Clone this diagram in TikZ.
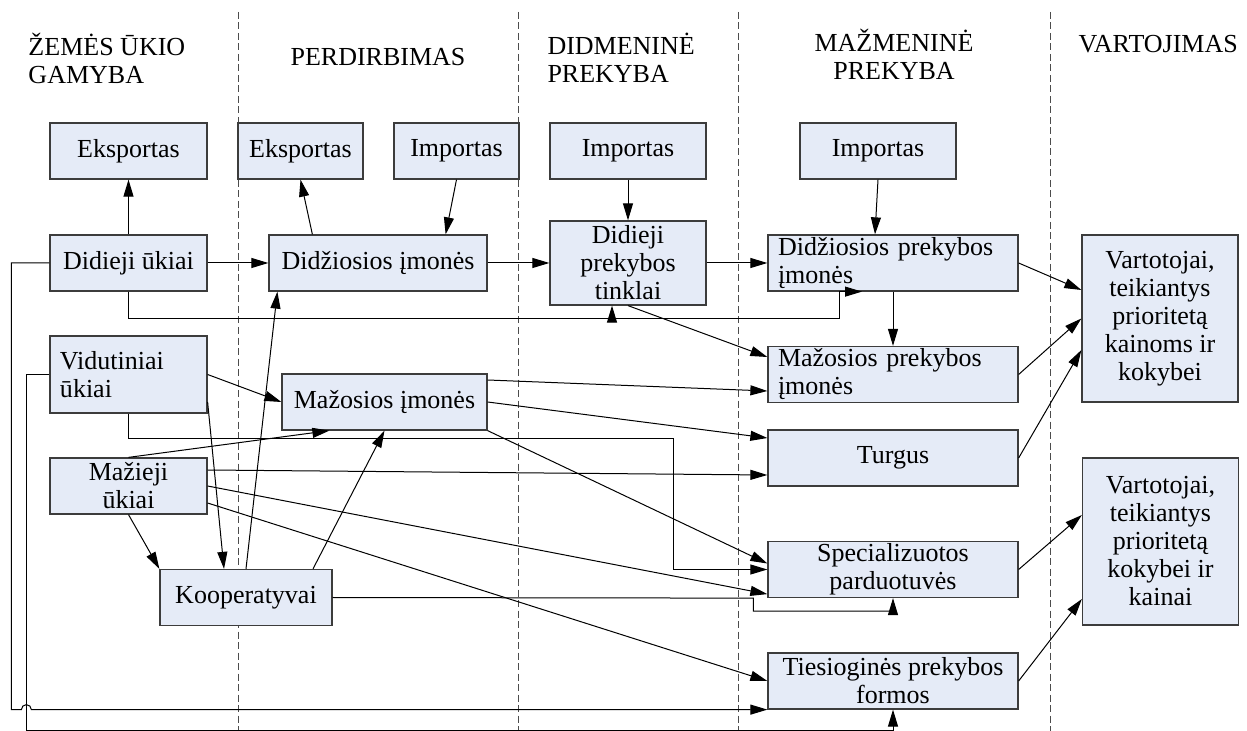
\documentclass[tikz,border=0pt]{standalone}
\usepackage{fontspec}
\setmainfont{Liberation Serif}
\usetikzlibrary{arrows.meta,calc}
\definecolor{BoxClr}{RGB}{229,235,247}
\definecolor{EdgeClr}{RGB}{60,60,60}
\newcommand{\pxl}{0.4pt}

\begin{document}
\begin{tikzpicture}[x=\pxl,y=-\pxl,
  font=\fontsize{10.4}{11.2}\selectfont,
  box/.style={draw=EdgeClr,line width=0.5pt,fill=BoxClr,inner sep=0pt,
    align=center,minimum height=56*\pxl},
  lbox/.style={box,align=left,inner xsep=10*\pxl},
  arr/.style={-{Triangle[length=6.8pt,width=4pt]},line width=0.4pt},
  head/.style={inner sep=0pt,align=#1},
  sep/.style={dash pattern=on 2.8pt off 1.4pt,line width=0.4pt,black!70}]
\useasboundingbox (0,0) rectangle (1247,731);

% stage borders
\foreach \x in {238,518,738,1050}
  \draw[sep] (\x,12) -- (\x,731);

\node[head=left,anchor=west] (hZemes) at (28,58) {ŽEMĖS ŪKIO\\GAMYBA};
\node[head=center] (hPerdirb) at (378,57) {PERDIRBIMAS};
\node[head=left,anchor=west] (hDidmen) at (547,58) {DIDMENINĖ\\PREKYBA};
\node[head=center] (hMazmen) at (894,54) {MAŽMENINĖ\\PREKYBA};
\node[head=left,anchor=west] (hVart) at (1078,44) {VARTOJIMAS};

\node[box,minimum width=157*\pxl] (expA) at (128.5,151) {Eksportas};
\node[box,minimum width=125*\pxl] (expB) at (300.5,151) {Eksportas};
\node[box,minimum width=125*\pxl] (impA) at (456.5,151) {Importas};
\node[box,minimum width=156*\pxl] (impB) at (628,151) {Importas};
\node[box,minimum width=156*\pxl] (impC) at (878,151) {Importas};

\node[box,minimum width=157*\pxl] (didUkiai) at (128.5,263) {Didieji ūkiai};
\node[box,minimum width=218*\pxl] (didImones) at (378,263) {Didžiosios įmonės};
\node[box,minimum width=156*\pxl,minimum height=84*\pxl] (didTinklai) at (628,263) {Didieji\\prekybos\\tinklai};
\node[lbox,text width=230*\pxl] (didPrek) at (893,263) {Didžiosios prekybos\\įmonės};
\node[box,minimum width=156*\pxl,minimum height=167*\pxl] (vartA) at (1160,318.5) {Vartotojai,\\teikiantys\\prioritetą\\kainoms ir\\kokybei};

\node[lbox,text width=137*\pxl,minimum height=77*\pxl] (vidUkiai) at (128.5,374.5) {Vidutiniai\\ūkiai};
\node[box,minimum width=205*\pxl] (mazImones) at (384.5,402) {Mažosios įmonės};
\node[lbox,text width=230*\pxl] (mazPrek) at (893,374.5) {Mažosios prekybos\\įmonės};
\node[box,minimum width=250*\pxl] (turgus) at (893,458) {Turgus};
\node[box,minimum width=157*\pxl] (mazUkiai) at (128.5,486) {Mažieji\\ūkiai};
\node[box,minimum width=250*\pxl] (spec) at (893,569.5) {Specializuotos\\parduotuvės};
\node[box,minimum width=156*\pxl,minimum height=167*\pxl] (vartB) at (1160.5,541.5) {Vartotojai,\\teikiantys\\prioritetą\\kokybei ir\\kainai};
\node[box,minimum width=172*\pxl] (koop) at (246,597.5) {Kooperatyvai};
\node[box,minimum width=250*\pxl] (ties) at (893,681) {Tiesioginės prekybos\\formos};

% upper chain
\draw[arr] (didUkiai.north) -- (expA.south);
\draw[arr] ($(didImones.north west)+(44,0)$) -- (expB.south);
\draw[arr] (impA.south) -- ($(didImones.north east)+(-42,0)$);
\draw[arr] (impB.south) -- (didTinklai.north);
\draw[arr] (impC.south) -- ($(didPrek.north)+(-18,0)$);
\draw[arr] (didUkiai.east) -- (didImones.west);
\draw[arr] (didImones.east) -- (didTinklai.west);
\draw[arr] (didTinklai.east) -- (didPrek.west);
\draw[arr] (didPrek.south) -- (mazPrek.north);
\draw[arr] (didTinklai.south) -- ($(mazPrek.west)+(0,-17.5)$);
\draw[arr] (didUkiai.south) -- ++(0,27) -| ($(didTinklai.south)+(-16,0)$);
\draw[arr] (didUkiai.south) -- ++(0,27) -| ($(didPrek.south)+(-54,0)$) -- ($(didPrek.south)+(-31,0)$);

% farms
\draw[arr] (vidUkiai.east) -- (mazImones.west);
\draw[arr] ($(vidUkiai.east)+(0,27.5)$) -- ($(koop.north)+(-22,0)$);
\draw[arr] (vidUkiai.south) -- ++(0,25) -| ($(spec.west)+(-94,0)$) -- (spec.west);
\draw[arr] (vidUkiai.west) -- ++(-23,0) |- ($(ties.south)+(0,21)$) -- (ties.south);
\draw[arr] (didUkiai.west) -- ++(-38,0) |- ($(ties.south west)+(-746,0)$)
  arc[start angle=180,end angle=0,radius=2pt] -- (ties.south west);

\draw[arr] (mazUkiai.north) -- ($(mazImones.south west)+(48,0)$);
\draw[arr] ($(mazUkiai.east)+(0,-16)$) -- ($(turgus.west)+(0,17)$);
\draw[arr] (mazUkiai.east) -- ($(spec.south west)+(0,-4)$);
\draw[arr] ($(mazUkiai.east)+(0,17)$) -- (ties.west);
\draw[arr] (mazUkiai.south) -- (koop.north west);

\draw[arr] ($(mazImones.east)+(0,-22)$) -- ($(mazPrek.west)+(0,16.5)$);
\draw[arr] (mazImones.east) -- ($(turgus.west)+(0,-20)$);
\draw[arr] (mazImones.south east) -- ($(spec.west)+(0,-6)$);

\draw[arr] (koop.north) -- ($(didImones.south west)+(9,0)$);
\draw[arr] ($(koop.north)+(67,0)$) -- (mazImones.south);
\draw[arr] (koop.east) -- ($(spec.south west)+(-14,0)$) -- ++(0,13) -| (spec.south);

% consumers
\draw[arr] (didPrek.east) -- ($(vartA.west)+(0,-28.5)$);
\draw[arr] (mazPrek.east) -- (vartA.west);
\draw[arr] (turgus.east) -- ($(vartA.west)+(0,31.5)$);
\draw[arr] (spec.east) -- ($(vartB.west)+(0,-26.5)$);
\draw[arr] (ties.east) -- ($(vartB.west)+(0,57.5)$);
\end{tikzpicture}
\end{document}
